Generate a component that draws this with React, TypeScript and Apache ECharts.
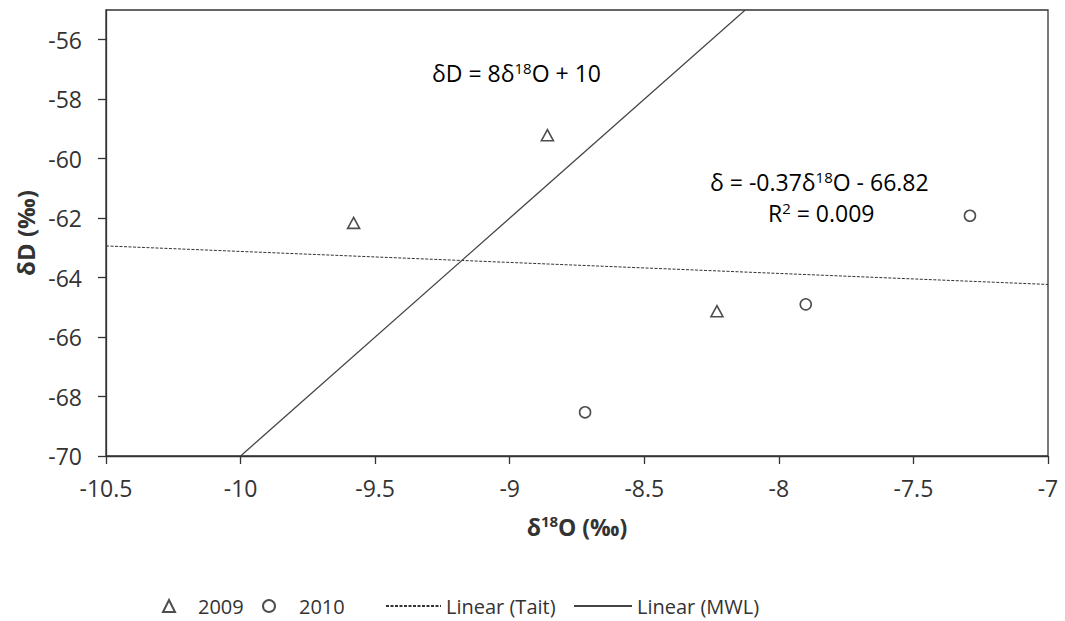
import React, { useEffect, useRef } from "react";
import * as echarts from "echarts";

const xTicks = [-10.5, -10, -9.5, -9, -8.5, -8, -7.5, -7];
const yTicks = [-70, -68, -66, -64, -62, -60, -58, -56];
const data2009 = [
  [-9.58, -62.16],
  [-8.86, -59.21],
  [-8.23, -65.13],
];
const data2010 = [
  [-8.72, -68.53],
  [-7.9, -64.9],
  [-7.29, -61.92],
];
// Trend line end points (δ = -0.37δ18O - 66.82 ; δD = 8δ18O + 10)
const taitLine = [
  [-10.5, -62.935],
  [-7, -64.23],
];
const mwlLine = [
  [-10, -70],
  [-8.125, -55],
];
const seriesNames = ["2009", "2010", "Linear (Tait)", "Linear (MWL)"];

const FONT = "'Open Sans', 'Noto Sans', sans-serif";
const INK = "#333";
const FS = 23;

export default function App() {
  const ref = useRef<HTMLDivElement>(null);
  useEffect(() => {
    document.body.style.margin = "0";
    const chart = echarts.init(ref.current!, null, { renderer: "svg" });
    const sup = { fontSize: 15, verticalAlign: "top", fontFamily: FONT, color: INK, lineHeight: 26 };
    const legendText = { fontFamily: FONT, fontSize: 20, color: INK, lineHeight: 22 };
    const legendBase = {
      top: 595,
      padding: 0,
      selectedMode: false,
      textStyle: legendText,
    };
    const eqRich = { a: { fontFamily: FONT, fontSize: FS, color: INK, lineHeight: 26 }, s: sup };
    chart.setOption({
      animation: false,
      backgroundColor: "#fff",
      textStyle: { fontFamily: FONT },
      grid: {
        left: 106,
        right: 17,
        top: 10,
        bottom: 165,
        show: true,
        borderColor: "#333",
        borderWidth: 1.3,
        backgroundColor: "transparent",
      },
      xAxis: {
        type: "value",
        min: -10.5,
        max: -7,
        interval: 0.5,
        name: "{a|δ}{s|18}{a|O (‰)}",
        nameLocation: "middle",
        nameGap: 57,
        nameTextStyle: {
          rich: {
            a: { fontFamily: FONT, fontSize: 23, fontWeight: "bold", color: INK, lineHeight: 28 },
            s: { ...sup, fontSize: 15, lineHeight: 28, fontWeight: "bold" },
          },
        },
        axisLine: { show: true, onZero: false, lineStyle: { color: "#333", width: 1.3 } },
        axisTick: { show: true, inside: false, length: 8, lineStyle: { color: "#333", width: 1.3 } },
        axisLabel: {
          color: INK,
          fontFamily: FONT,
          fontSize: FS,
          margin: 20,
          formatter: (v: number) => (xTicks.includes(v) ? String(v) : ""),
        },
        splitLine: { show: false },
      },
      yAxis: {
        type: "value",
        min: -70,
        max: -55,
        name: "δD (‰)",
        nameLocation: "middle",
        nameRotate: 90,
        nameGap: 64,
        nameTextStyle: { fontFamily: FONT, fontSize: 24, fontWeight: "bold", color: INK },
        axisLine: { show: true, onZero: false, lineStyle: { color: "#333", width: 1.3 } },
        axisTick: { show: true, inside: false, length: 8, customValues: yTicks, lineStyle: { color: "#333", width: 1.3 } },
        axisLabel: { color: INK, fontFamily: FONT, fontSize: FS, margin: 24, customValues: yTicks },
        splitLine: { show: false },
      },
      legend: [
        {
          ...legendBase,
          left: 162,
          data: [seriesNames[0]],
          itemWidth: 12,
          itemHeight: 12,
          textStyle: { ...legendText, padding: [0, 0, 0, 18] },
        },
        {
          ...legendBase,
          left: 262,
          data: [seriesNames[1]],
          itemWidth: 12,
          itemHeight: 12,
          textStyle: { ...legendText, padding: [0, 0, 0, 19] },
        },
        {
          ...legendBase,
          left: 385,
          data: [seriesNames[2]],
          itemWidth: 55,
          itemHeight: 12,
          itemStyle: { color: "transparent", borderColor: "transparent", borderWidth: 0 },
        },
        {
          ...legendBase,
          left: 573,
          data: [seriesNames[3]],
          itemWidth: 58,
          itemHeight: 12,
          itemStyle: { color: "transparent", borderColor: "transparent", borderWidth: 0 },
        },
      ],
      graphic: [
        {
          type: "text",
          left: 432,
          top: 60,
          style: { text: "{a|δD = 8δ}{s|18}{a|O + 10}", rich: eqRich },
        },
        {
          type: "text",
          left: 710,
          top: 169,
          style: { text: "{a|δ = -0.37δ}{s|18}{a|O - 66.82}", rich: eqRich },
        },
        {
          type: "text",
          left: 768,
          top: 200,
          style: { text: "{a|R}{s|2}{a| = 0.009}", rich: eqRich },
        },
      ],
      series: [
        {
          name: seriesNames[0],
          type: "scatter",
          data: data2009,
          symbol: "triangle",
          symbolSize: [12, 11],
          itemStyle: { color: "#fff", borderColor: "#222", borderWidth: 1.6 },
          z: 5,
        },
        {
          name: seriesNames[1],
          type: "scatter",
          data: data2010,
          symbol: "circle",
          symbolSize: 11,
          itemStyle: { color: "#fff", borderColor: "#222", borderWidth: 1.6 },
          z: 5,
        },
        {
          name: seriesNames[2],
          type: "line",
          data: taitLine,
          symbol: "none",
          lineStyle: { color: "#333", width: 1, type: [3, 1.5] },
          itemStyle: { color: "#333" },
        },
        {
          name: seriesNames[3],
          type: "line",
          data: mwlLine,
          symbol: "none",
          lineStyle: { color: "#444", width: 1.2, type: "solid" },
          itemStyle: { color: "#444" },
        },
      ],
    });
    return () => chart.dispose();
  }, []);
  return <div ref={ref} style={{ width: 1065, height: 621 }} />;
}
